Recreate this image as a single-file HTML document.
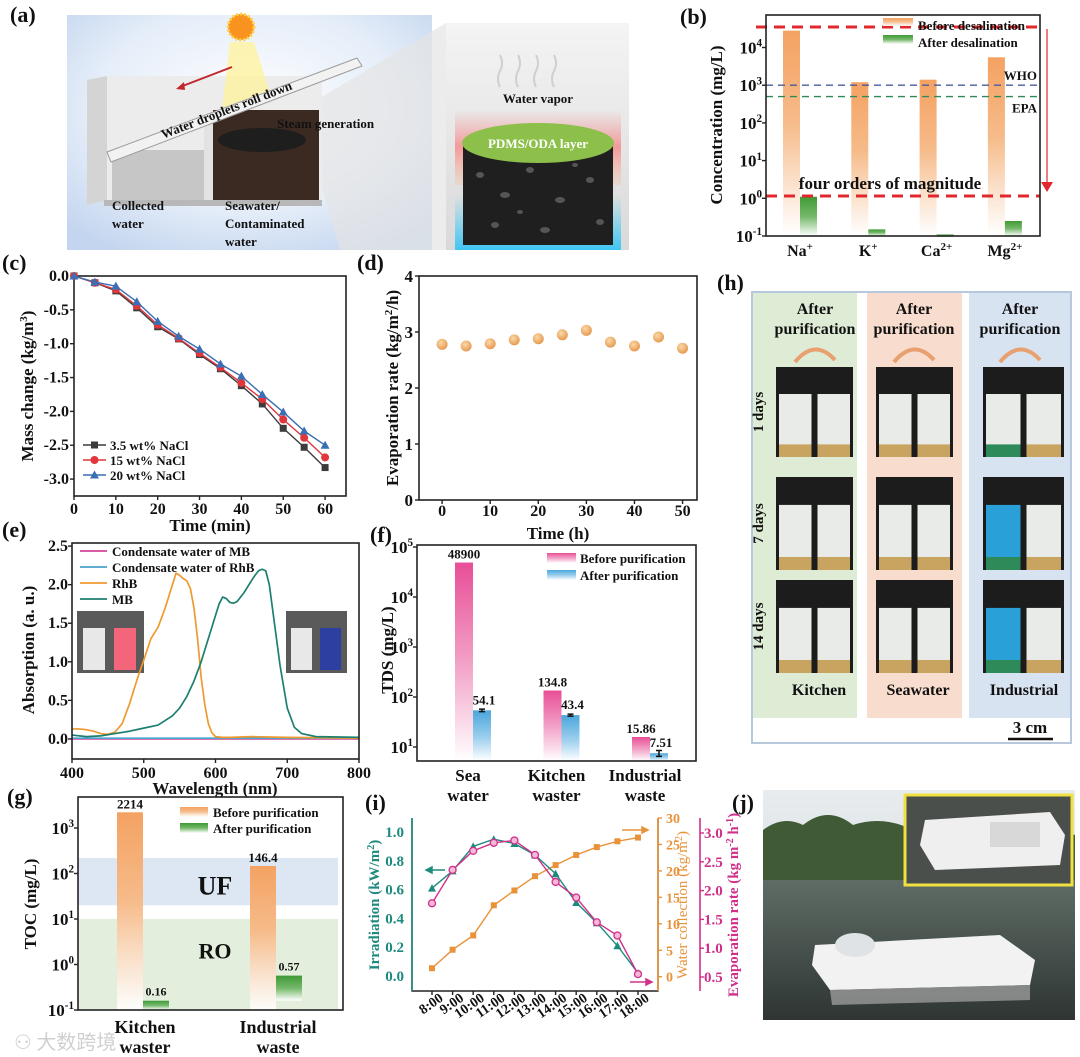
<!DOCTYPE html>
<html><head><meta charset="utf-8">
<style>
html,body{margin:0;padding:0;background:#fff}
svg{display:block;font-family:"Liberation Serif","Noto Serif CJK SC",serif;font-weight:bold}
</style></head>
<body>
<svg id="fig" width="1080" height="1057" viewBox="0 0 1080 1057" xmlns="http://www.w3.org/2000/svg">
<defs>
<linearGradient id="gOrange" x1="0" y1="0" x2="0" y2="1"><stop offset="0" stop-color="#f4a262"/><stop offset="0.45" stop-color="#f6bb8a"/><stop offset="1" stop-color="#fff" stop-opacity="0.9"/></linearGradient>
<linearGradient id="gGreen" x1="0" y1="0" x2="0" y2="1"><stop offset="0" stop-color="#3f9a36"/><stop offset="0.5" stop-color="#74b86a"/><stop offset="1" stop-color="#fff"/></linearGradient>
<linearGradient id="gPink" x1="0" y1="0" x2="0" y2="1"><stop offset="0" stop-color="#e84e97"/><stop offset="0.5" stop-color="#f2a0c6"/><stop offset="1" stop-color="#fff"/></linearGradient>
<linearGradient id="gBlue" x1="0" y1="0" x2="0" y2="1"><stop offset="0" stop-color="#4aa6dc"/><stop offset="0.55" stop-color="#9fd0ee"/><stop offset="1" stop-color="#fff"/></linearGradient>
<radialGradient id="gDot" cx="0.4" cy="0.35" r="0.7"><stop offset="0" stop-color="#fbd9a8"/><stop offset="1" stop-color="#e4954c"/></radialGradient>
<radialGradient id="aBg" cx="0.5" cy="0.4" r="0.7"><stop offset="0" stop-color="#ffffff"/><stop offset="0.6" stop-color="#e6eef9"/><stop offset="1" stop-color="#c4d6ef"/></radialGradient>
<linearGradient id="grayBg" x1="0" y1="0" x2="0" y2="1"><stop offset="0" stop-color="#f4f4f4"/><stop offset="1" stop-color="#d9d9d9"/></linearGradient>
<linearGradient id="redGlow" x1="0" y1="0" x2="0" y2="1"><stop offset="0" stop-color="#f4a0a0" stop-opacity="0"/><stop offset="0.5" stop-color="#f29a9a"/><stop offset="1" stop-color="#f6c0a0" stop-opacity="0.3"/></linearGradient>
<linearGradient id="blueGlow" x1="0" y1="0" x2="0" y2="1"><stop offset="0" stop-color="#4fd0f5" stop-opacity="0"/><stop offset="1" stop-color="#3fc6f2"/></linearGradient>
<linearGradient id="sky" x1="0" y1="0" x2="0" y2="1"><stop offset="0" stop-color="#e8ecef"/><stop offset="1" stop-color="#c9d2d6"/></linearGradient>
<linearGradient id="water" x1="0" y1="0" x2="0" y2="1"><stop offset="0" stop-color="#5f6c66"/><stop offset="1" stop-color="#2e3532"/></linearGradient>
</defs>

<!-- Panel a illustration -->
<g>
  <rect x="67" y="15" width="365" height="235" fill="url(#aBg)"/>
  <polygon points="300,110 446,23 446,250 340,250" fill="#e4e4e4" opacity="0.7"/>
  <polygon points="87,80 107,76 107,200 87,205" fill="#d4d4d4"/>
  <rect x="107" y="76" width="215" height="124" fill="#ececec"/>
  <rect x="112" y="150" width="92" height="50" fill="#c6c6c6"/>
  <rect x="204" y="118" width="9" height="87" fill="#e2e2e2"/>
  <rect x="213" y="110" width="106" height="90" fill="#3a2a22"/>
  <ellipse cx="262" cy="140" rx="44" ry="12" fill="#1e1e1e"/>
  <rect x="104" y="200" width="218" height="6" fill="#b8b8b8"/>
  <polygon points="230,42 254,42 272,100 222,110" fill="#fff3a0" opacity="0.8"/>
  <circle cx="241" cy="27" r="13" fill="#f7931e" stroke="#ffd24a" stroke-width="3" stroke-dasharray="2 2"/>
  <polygon points="107,152 357,58 362,66 111,162" fill="#f2f2f2" stroke="#9a9a9a"/>
  <line x1="232" y1="67" x2="180" y2="87" stroke="#c0282d" stroke-width="2"/>
  <polygon points="176,89 184,82 185,90" fill="#c0282d"/>
  <text x="228" y="114" font-size="13" text-anchor="middle" transform="rotate(-21 228 114)" fill="#111">Water droplets roll down</text>
  <text x="277" y="128" font-size="13" fill="#111">Steam generation</text>
  <text x="112" y="210" font-size="13" fill="#111">Collected</text>
  <text x="112" y="228" font-size="13" fill="#111">water</text>
  <text x="225" y="210" font-size="13" fill="#111">Seawater/</text>
  <text x="225" y="228" font-size="13" fill="#111">Contaminated</text>
  <text x="225" y="246" font-size="13" fill="#111">water</text>
  <rect x="446" y="23" width="183" height="227" fill="url(#grayBg)"/>
  <rect x="455" y="110" width="166" height="75" fill="url(#redGlow)"/>
  <rect x="455" y="195" width="166" height="55" fill="url(#blueGlow)"/>
  <path d="M500 55 q4 8 0 16 q-4 8 0 16 M518 55 q4 8 0 16 q-4 8 0 16 M536 55 q4 8 0 16 q-4 8 0 16 M554 55 q4 8 0 16 q-4 8 0 16" stroke="#cfcfcf" stroke-width="2" fill="none"/>
  <text x="538" y="103" font-size="13" text-anchor="middle" fill="#111">Water vapor</text>
  <rect x="463" y="143" width="150" height="102" fill="#1f1f1f"/>
  <g fill="#555">
    <ellipse cx="480" cy="175" rx="4" ry="3"/><ellipse cx="505" cy="195" rx="5" ry="3"/><ellipse cx="530" cy="170" rx="4" ry="3"/><ellipse cx="560" cy="200" rx="5" ry="3"/><ellipse cx="590" cy="180" rx="4" ry="3"/><ellipse cx="495" cy="225" rx="4" ry="3"/><ellipse cx="545" cy="230" rx="5" ry="3"/><ellipse cx="600" cy="222" rx="4" ry="3"/><ellipse cx="575" cy="165" rx="3" ry="2"/><ellipse cx="520" cy="212" rx="3" ry="2"/>
  </g>
  <ellipse cx="538" cy="143" rx="76" ry="20" fill="#8cc04a"/>
  <text x="538" y="148" font-size="13" text-anchor="middle" fill="#fff">PDMS/ODA layer</text>
</g>

<!-- Panel j photo -->
<g>
  <rect x="763" y="790" width="312" height="230" fill="url(#sky)"/>
  <path d="M763 830 q20 -15 40 -5 q25 -20 50 0 q30 -10 60 5 q40 -15 80 0 q40 -10 82 5 L1075 890 L763 890 Z" fill="#3f5a35"/>
  <rect x="763" y="880" width="312" height="140" fill="url(#water)"/>
  <polygon points="815,945 1000,935 1035,960 1030,985 830,990 812,965" fill="#f2f2f2"/>
  <polygon points="830,990 1030,985 1030,1000 832,1005" fill="#9a9a9a" opacity="0.8"/>
  <ellipse cx="855" cy="945" rx="20" ry="12" fill="#dfe3e6"/>
  <rect x="905" y="795" width="167" height="90" fill="#4b4f4c" stroke="#f0e040" stroke-width="3"/>
  <polygon points="925,820 1050,812 1065,835 1060,865 935,870 920,845" fill="#efefef"/>
  <rect x="990" y="822" width="50" height="25" fill="#d8d8d8"/>
</g>

<!-- Panel h frame -->
<g>
  <rect x="752" y="292" width="319" height="451" fill="#fff" stroke="#b8c8dc" stroke-width="2"/>
  <rect x="753" y="293" width="104" height="425" fill="#deecd6"/>
  <rect x="867" y="293" width="95" height="425" fill="#f8dccd"/>
  <rect x="969" y="293" width="101" height="425" fill="#d8e3f1"/>
</g>
</svg>

<script>
const NS='http://www.w3.org/2000/svg';
const fig=document.getElementById('fig');
function el(tag,attrs,parent){const e=document.createElementNS(NS,tag);for(const k in attrs)e.setAttribute(k,attrs[k]);(parent||fig).appendChild(e);return e;}
function txt(x,y,s,size,anchor,fill,parent){const e=el('text',{x:x,y:y,'font-size':size,'text-anchor':anchor||'middle',fill:fill||'#111'},parent);e.textContent=s;return e;}
function lin(d0,d1,r0,r1){return v=>r0+(v-d0)/(d1-d0)*(r1-r0);}
function logs(e0,e1,r0,r1){return v=>r0+(Math.log10(v)-e0)/(e1-e0)*(r1-r0);}
function pow10(x,y,exp,size,anchor,fill){const e=el('text',{x:x,y:y,'font-size':size,'text-anchor':anchor||'end',fill:fill||'#111'});e.appendChild(document.createTextNode('10'));const s=el('tspan',{dy:-size*0.4,'font-size':size*0.65},e);s.textContent=exp;return e;}
function frame(x0,y0,x1,y1){return el('rect',{x:x0,y:y0,width:x1-x0,height:y1-y0,fill:'none',stroke:'#222','stroke-width':1.6});}
function panelLabel(x,y,s){const t=txt(x,y,s,22,'start');return t;}
function rotTitle(x,y,s,size,fill){const t=el('text',{x:x,y:y,'font-size':size,'text-anchor':'middle',fill:fill||'#111',transform:'rotate(-90 '+x+' '+y+')'});return t;}

/* ================= DATA ================= */
// (b)
const bCats=['Na','K','Ca','Mg'];
const bCharges=['+','+','2+','2+'];
const bBefore=[28000,1200,1400,5500];
const bAfter=[1.1,0.15,0.11,0.25];
const bWHO=1000, bEPA=500, bTop=35000, bBottom=1.15;
const bExps=['4','3','2','1','0','-1'];
// (c)
const cTimes=[0,5,10,15,20,25,30,35,40,45,50,55,60];
const cNaCl35=[0,-0.10,-0.22,-0.47,-0.75,-0.93,-1.16,-1.37,-1.62,-1.89,-2.25,-2.53,-2.83];
const cNaCl15=[0,-0.10,-0.20,-0.44,-0.72,-0.92,-1.14,-1.35,-1.58,-1.82,-2.12,-2.39,-2.68];
const cNaCl20=[0,-0.09,-0.15,-0.38,-0.67,-0.89,-1.08,-1.30,-1.48,-1.75,-2.01,-2.29,-2.50];
const cXTicks=[0,10,20,30,40,50,60];
const cYTicks=[0,-0.5,-1,-1.5,-2,-2.5,-3];
const cYLabels=['0.0','-0.5','-1.0','-1.5','-2.0','-2.5','-3.0'];
// (d)
const dTimes=[0,5,10,15,20,25,30,35,40,45,50];
const dRates=[2.78,2.75,2.79,2.86,2.88,2.95,3.03,2.82,2.75,2.91,2.71];
const dXTicks=[0,10,20,30,40,50];
const dYTicks=[0,1,2,3,4];
// (e)
const eRhBWave=[400,410,420,430,440,450,460,470,480,490,500,510,520,530,540,545,550,555,560,565,570,575,580,585,590,595,600,610,620,650,700,800];
const eRhBAbs=[0.13,0.13,0.12,0.10,0.07,0.06,0.09,0.20,0.45,0.75,1.02,1.30,1.45,1.70,2.00,2.15,2.12,2.08,2.05,1.95,1.70,1.30,0.80,0.45,0.20,0.08,0.03,0.02,0.02,0.03,0.02,0.01];
const eMBWave=[400,420,440,460,480,500,520,540,550,560,570,580,590,600,605,610,615,620,625,630,640,650,655,660,665,670,675,680,690,700,710,720,740,800];
const eMBAbs=[0.05,0.03,0.04,0.07,0.10,0.14,0.18,0.30,0.40,0.55,0.75,1.00,1.30,1.60,1.75,1.84,1.82,1.77,1.76,1.78,1.90,2.05,2.12,2.18,2.20,2.18,2.00,1.65,0.95,0.40,0.15,0.07,0.03,0.02];
const eCondWave=[400,800];
const eCondMB=[0.0,0.0];
const eCondRhB=[0.01,0.01];
const eXTicks=[400,500,600,700,800];
const eYTicks=[0,0.5,1,1.5,2,2.5];
const eYLabels=['0.0','0.5','1.0','1.5','2.0','2.5'];
// (f)
const fCats=['Sea','Kitchen','Industrial'];
const fCats2=['water','waster','waste'];
const fBefore=[48900,134.8,15.86];
const fAfter=[54.1,43.4,7.51];
const fBeforeLabels=['48900','134.8','15.86'];
const fAfterLabels=['54.1','43.4','7.51'];
const fErr=[3,2,1];
const fExps=['5','4','3','2','1'];
// (g)
const gCats=['Kitchen','Industrial'];
const gCats2=['waster','waste'];
const gBefore=[2214,146.4];
const gAfter=[0.16,0.57];
const gBeforeLabels=['2214','146.4'];
const gAfterLabels=['0.16','0.57'];
const gUF=[20,220], gRO=[0.1,10];
const gExps=['3','2','1','0','-1'];
// (i)
const iHours=[8,9,10,11,12,13,14,15,16,17,18];
const iHourLabels=['8:00','9:00','10:00','11:00','12:00','13:00','14:00','15:00','16:00','17:00','18:00'];
const iIrr=[0.61,0.73,0.90,0.95,0.92,0.84,0.71,0.51,0.37,0.21,0.02];
const iWater=[1.6,5.1,7.8,13.5,16.3,19.0,21.1,23.0,24.5,25.6,26.3];
const iEvap=[1.78,2.36,2.69,2.83,2.87,2.62,2.15,1.88,1.45,1.22,0.55];
const iLTicks=[0,0.2,0.4,0.6,0.8,1.0];
const iLLabels=['0.0','0.2','0.4','0.6','0.8','1.0'];
const iRTicks=[0,5,10,15,20,25,30];
const iPTicks=[0.5,1.0,1.5,2.0,2.5,3.0];
const iPLabels=['0.5','1.0','1.5','2.0','2.5','3.0'];

/* ================= PANEL LABELS ================= */
[['(a)',10,22],['(b)',680,24],['(c)',2,270],['(d)',357,270],['(e)',2,537],['(f)',370,542],['(g)',7,804],['(h)',717,290],['(i)',365,810],['(j)',732,810]].forEach(p=>{
  const t=panelLabel(p[1],p[2],p[0]);
  
  
});

/* ================= (b) ================= */
(function(){
  const X0=766,X1=1040,Y0=15,Y1=236;
  const y=logs(-1,0,236,198.3);
  const bx=i=>800+i*68.3;
  bCats.forEach((c,i)=>{
    const r=el('rect',{x:bx(i)-17,y:y(bBefore[i]),width:17,height:Y1-y(bBefore[i]),fill:'url(#gOrange)'});
    
    
    const a=el('rect',{x:bx(i),y:y(bAfter[i]),width:17,height:Math.max(3,Math.min(Y1,y(bAfter[i])+40)-y(bAfter[i])),fill:'url(#gGreen)'});
    
    
    const t=txt(bx(i),256,c,16,'middle');
    const s=el('tspan',{dy:-6,'font-size':11},t);s.textContent=bCharges[i];
    
    
  });
  const w=el('line',{x1:X0,x2:X1,y1:y(bWHO),y2:y(bWHO),stroke:'#4a5a9a','stroke-width':1.3,'stroke-dasharray':'7 5'});
  
  
  const e=el('line',{x1:X0,x2:X1,y1:y(bEPA),y2:y(bEPA),stroke:'#2f8a5a','stroke-width':1.3,'stroke-dasharray':'7 5'});
  
  
  const wt=txt(1037,y(bWHO)-5,'WHO',13,'end');
  
  
  const et=txt(1037,y(bEPA)+16,'EPA',13,'end');
  
  
  const r1=el('line',{x1:X0-10,x2:X1,y1:y(bTop),y2:y(bTop),stroke:'#e0282e','stroke-width':3,'stroke-dasharray':'11 7'});
  
  
  const r2=el('line',{x1:X0,x2:X1,y1:y(bBottom),y2:y(bBottom),stroke:'#e0282e','stroke-width':3,'stroke-dasharray':'11 7'});
  
  
  const ar=el('line',{x1:1047,x2:1047,y1:y(bTop)+2,y2:y(bBottom)-12,stroke:'#e0282e','stroke-width':1.2});
  
  
  const ah=el('polygon',{points:'1041,'+(y(bBottom)-14)+' 1053,'+(y(bBottom)-14)+' 1047,'+(y(bBottom)-4),fill:'#e0282e'});
  
  
  const ft=txt(890,189,'four orders of magnitude',17,'middle');
  
  
  const f=frame(X0,Y0,X1,Y1);
  
  
  bExps.forEach(ex=>{
    const v=Math.pow(10,+ex);
    const tk=el('line',{x1:X0-4,x2:X0,y1:y(v),y2:y(v),stroke:'#222','stroke-width':1.4});
    
    
    const l=pow10(762,y(v)+6,ex,17);
    
    
  });
  const sw1=el('rect',{x:883,y:18,width:30,height:8,fill:'url(#gOrange)'});
  
  
  const lt1=txt(918,30,'Before desalination',13,'start');
  
  
  const sw2=el('rect',{x:883,y:35,width:30,height:9,fill:'url(#gGreen)'});
  
  
  const lt2=txt(918,47,'After desalination',13,'start');
  
  
  const yt=rotTitle(722,125,'',17);
  yt.textContent='Concentration (mg/L)';
  
  
})();

/* ================= (c) ================= */
(function(){
  const X0=74,X1=346,Y0=276,Y1=496;
  const x=lin(0,65,74,346), y=lin(0,-3.25,276,496);
  const f=frame(X0,Y0,X1,Y1);
  
  
  cXTicks.forEach(v=>{
    const tk=el('line',{x1:x(v),x2:x(v),y1:Y1,y2:Y1+4,stroke:'#222','stroke-width':1.4});
    
    
    const l=txt(x(v),514,String(v),16,'middle');
    
    
  });
  cYTicks.forEach((v,i)=>{
    const tk=el('line',{x1:X0-4,x2:X0,y1:y(v),y2:y(v),stroke:'#222','stroke-width':1.4});
    
    
    const l=txt(69,y(v)+5,cYLabels[i],16,'end');
    
    
  });
  const series=[[cNaCl35,'#3c3c3c','sq','3.5 wt% NaCl'],[cNaCl15,'#e0363c','ci','15 wt% NaCl'],[cNaCl20,'#3a6fb5','tr','20 wt% NaCl']];
  function marker(px,py,kind,col,name){
    let m;
    if(kind==='sq') m=el('rect',{x:px-3.5,y:py-3.5,width:7,height:7,fill:col});
    else if(kind==='ci') m=el('circle',{cx:px,cy:py,r:4,fill:col});
    else m=el('polygon',{points:(px-4.5)+','+(py+3.5)+' '+(px+4.5)+','+(py+3.5)+' '+px+','+(py-4.5),fill:col});
    
    
  }
  series.forEach((s,si)=>{
    const pl=el('polyline',{points:cTimes.map((t,i)=>x(t)+','+y(s[0][i])).join(' '),fill:'none',stroke:s[1],'stroke-width':1.4});
    
    
    cTimes.forEach((t,i)=>marker(x(t),y(s[0][i]),s[2],s[1],'point'));
    const ly=445+si*15;
    const ll=el('line',{x1:83,x2:106,y1:ly,y2:ly,stroke:s[1],'stroke-width':1.4});
    
    
    marker(94.5,ly,s[2],s[1],'legend-marker');
    const lt=txt(110,ly+5,s[3],13,'start');
    
    
  });
  const yt=rotTitle(33,386,'',17);
  yt.appendChild(document.createTextNode('Mass change (kg/m'));
  const sup=el('tspan',{dy:-6,'font-size':11},yt);sup.textContent='3';
  const cl=el('tspan',{dy:6},yt);cl.textContent=')';
  
  
  const xt=txt(210,531,'Time (min)',17,'middle');
  
  
})();

/* ================= (d) ================= */
(function(){
  const X0=419,X1=697,Y0=276,Y1=500;
  const x=lin(-4.8,53,419,697), y=lin(0,4,500,276);
  const f=frame(X0,Y0,X1,Y1);
  
  
  dXTicks.forEach(v=>{
    const tk=el('line',{x1:x(v),x2:x(v),y1:Y1,y2:Y1+4,stroke:'#222','stroke-width':1.4});
    
    
    const l=txt(x(v),516,String(v),16,'middle');
    
    
  });
  dYTicks.forEach(v=>{
    const tk=el('line',{x1:X0-4,x2:X0,y1:y(v),y2:y(v),stroke:'#222','stroke-width':1.4});
    
    
    const l=txt(413,y(v)+6,String(v),17,'end');
    
    
  });
  dTimes.forEach((t,i)=>{
    const c=el('circle',{cx:x(t),cy:y(dRates[i]),r:5.5,fill:'url(#gDot)'});
    
    
  });
  const yt=rotTitle(398,388,'',17);
  yt.appendChild(document.createTextNode('Evaporation rate (kg/m'));
  const sup=el('tspan',{dy:-6,'font-size':11},yt);sup.textContent='2';
  const cl=el('tspan',{dy:6},yt);cl.textContent='/h)';
  
  
  const xt=txt(558,539,'Time (h)',17,'middle');
  
  
})();

/* ================= (e) ================= */
(function(){
  const X0=72,X1=359,Y0=543,Y1=759;
  const x=lin(400,800,72,359), y=lin(-0.26,2.54,759,543);
  // insets
  const in1=el('rect',{x:77,y:611,width:67,height:62,fill:'#5a5a5a'});
  
  
  const v1=el('rect',{x:83,y:628,width:22,height:42,fill:'#e8e8e8'});
  
  
  const v2=el('rect',{x:114,y:628,width:22,height:42,fill:'#f2657a'});
  
  
  const in2=el('rect',{x:286,y:611,width:61,height:62,fill:'#5a5a5a'});
  
  
  const v3=el('rect',{x:291,y:628,width:21,height:42,fill:'#e8e8e8'});
  
  
  const v4=el('rect',{x:320,y:628,width:21,height:42,fill:'#2d3fa0'});
  
  
  const curves=[[eCondWave,eCondMB,'#d4469c','Condensate water of MB'],[eCondWave,eCondRhB,'#4aa3c8','Condensate water of RhB'],[eRhBWave,eRhBAbs,'#ee9a30','RhB'],[eMBWave,eMBAbs,'#1d7f70','MB']];
  curves.forEach((c,ci)=>{
    const pl=el('polyline',{points:c[0].map((w,i)=>x(w)+','+y(c[1][i])).join(' '),fill:'none',stroke:c[2],'stroke-width':1.7,'stroke-linejoin':'round'});
    
    
    const ly=551+ci*16;
    const ll=el('line',{x1:80,x2:107,y1:ly,y2:ly,stroke:c[2],'stroke-width':1.7});
    
    
    const lt=txt(112,ly+5,c[3],13,'start');
    
    
  });
  const f=frame(X0,Y0,X1,Y1);
  
  
  eXTicks.forEach(v=>{
    const tk=el('line',{x1:x(v),x2:x(v),y1:Y1,y2:Y1+4,stroke:'#222','stroke-width':1.4});
    
    
    const l=txt(x(v),778,String(v),16,'middle');
    
    
  });
  eYTicks.forEach((v,i)=>{
    const tk=el('line',{x1:X0-4,x2:X0,y1:y(v),y2:y(v),stroke:'#222','stroke-width':1.4});
    
    
    const l=txt(68,y(v)+5,eYLabels[i],16,'end');
    
    
  });
  const yt=rotTitle(34,650,'Absorption (a. u.)',17);
  yt.textContent='Absorption (a. u.)';
  
  
  const xt=txt(215,794,'Wavelength (nm)',17,'middle');
  
  
})();

/* ================= (f) ================= */
(function(){
  const X0=417,X1=696,Y0=545,Y1=761;
  const y=logs(1,5,747,547);
  const cx=i=>473+i*88.5;
  fCats.forEach((c,i)=>{
    const b=el('rect',{x:cx(i)-18,y:y(fBefore[i]),width:18,height:Y1-y(fBefore[i]),fill:'url(#gPink)'});
    
    
    const a=el('rect',{x:cx(i),y:y(fAfter[i]),width:18,height:Y1-y(fAfter[i]),fill:'url(#gBlue)'});
    
    
    const eb=el('path',{d:'M'+(cx(i)+9)+' '+y(fAfter[i]+fErr[i])+' V'+y(fAfter[i]-fErr[i])+' M'+(cx(i)+6)+' '+y(fAfter[i]+fErr[i])+' h6 M'+(cx(i)+6)+' '+y(fAfter[i]-fErr[i])+' h6',stroke:'#111','stroke-width':1.5,fill:'none'});
    
    
    const bl=txt(cx(i)-9,y(fBefore[i])-4,fBeforeLabels[i],13,'middle');
    
    
    const al=txt(cx(i)+11,y(fAfter[i])-6,fAfterLabels[i],13,'middle');
    
    
    const c1=txt(cx(i)-5,781,c,17,'middle');
    
    
    const c2=txt(cx(i)-5,801,fCats2[i],17,'middle');
    
    
  });
  const f=frame(X0,Y0,X1,Y1);
  
  
  fExps.forEach(ex=>{
    const v=Math.pow(10,+ex);
    const tk=el('line',{x1:X0-4,x2:X0,y1:y(v),y2:y(v),stroke:'#222','stroke-width':1.4});
    
    
    const l=pow10(413,y(v)+6,ex,17);
    
    
  });
  const sw1=el('rect',{x:547,y:553,width:29,height:10,fill:'url(#gPink)'});
  
  
  const lt1=txt(580,563,'Before purification',13,'start');
  
  
  const sw2=el('rect',{x:547,y:570,width:29,height:10,fill:'url(#gBlue)'});
  
  
  const lt2=txt(580,580,'After purification',13,'start');
  
  
  const yt=rotTitle(393,650,'',17);
  yt.textContent='TDS (mg/L)';
  
  
})();

/* ================= (g) ================= */
(function(){
  const X0=78,X1=343,Y0=797,Y1=1010;
  const y=logs(-1,0,1010,964.5);
  const cx=i=>143+i*133;
  const uf=el('rect',{x:X0,y:y(gUF[1]),width:260,height:y(gUF[0])-y(gUF[1]),fill:'#dce7f3'});
  
  
  const ro=el('rect',{x:X0,y:y(gRO[1]),width:260,height:y(gRO[0])-y(gRO[1]),fill:'#e3efdc'});
  
  
  const ut=txt(215,y(55)+9,'UF',26,'middle');
  
  
  const rt=txt(215,y(1)-6,'RO',22,'middle');
  
  
  gCats.forEach((c,i)=>{
    const b=el('rect',{x:cx(i)-26,y:y(gBefore[i]),width:26,height:Y1-y(gBefore[i]),fill:'url(#gOrange)'});
    
    
    const a=el('rect',{x:cx(i),y:y(gAfter[i]),width:26,height:Math.max(4,Math.min(Y1,y(gAfter[i])+25)-y(gAfter[i])),fill:'url(#gGreen)'});
    
    
    const bl=txt(cx(i)-13,y(gBefore[i])-4,gBeforeLabels[i],13,'middle');
    
    
    const al=txt(cx(i)+13,y(gAfter[i])-5,gAfterLabels[i],12,'middle');
    
    
    const c1=txt(cx(i)+2,1033,c,18,'middle');
    
    
    const c2=txt(cx(i)+2,1053,gCats2[i],18,'middle');
    
    
  });
  const f=frame(X0,Y0,X1,Y1);
  
  
  gExps.forEach(ex=>{
    const v=Math.pow(10,+ex);
    const tk=el('line',{x1:X0-4,x2:X0,y1:y(v),y2:y(v),stroke:'#222','stroke-width':1.4});
    
    
    const l=pow10(74,y(v)+6,ex,17);
    
    
  });
  const sw1=el('rect',{x:180,y:807,width:28,height:10,fill:'url(#gOrange)'});
  
  
  const lt1=txt(213,817,'Before purification',13,'start');
  
  
  const sw2=el('rect',{x:180,y:823,width:28,height:10,fill:'url(#gGreen)'});
  
  
  const lt2=txt(213,833,'After purification',13,'start');
  
  
  const yt=rotTitle(36,904,'',17);
  yt.textContent='TOC (mg/L)';
  
  
  const wm=el('text',{x:14,y:1049,'font-size':20,fill:'#d0d0d0','font-family':'"Noto Sans CJK SC",sans-serif','font-weight':'normal'});
  wm.textContent='⚇ 大数跨境';
  
  
})();

/* ================= (i) ================= */
(function(){
  const X0=412,X1=658,Y0=818,Y1=991;
  const x=lin(8,18,432,638), yL=lin(0,1,976,832), yR=lin(0,30,976.7,818), yP=lin(0.5,3,977,833);
  const teal='#1e8a7e', orange='#e8923a', pink='#d0308a';
  const frm=el('path',{d:'M'+X0+' '+Y0+' V'+Y1+' H'+X1+' V'+Y0,fill:'none',stroke:'#222','stroke-width':1.4});
  
  
  const la=el('line',{x1:X0,x2:X0,y1:Y0,y2:Y1,stroke:teal,'stroke-width':1.6});
  
  
  const ra=el('line',{x1:X1,x2:X1,y1:Y0,y2:Y1,stroke:orange,'stroke-width':1.6});
  
  
  const pa=el('line',{x1:700,x2:700,y1:Y0,y2:Y1,stroke:pink,'stroke-width':1.6});
  
  
  iHours.forEach((h,i)=>{
    const tk=el('line',{x1:x(h),x2:x(h),y1:Y1,y2:Y1+4,stroke:'#222','stroke-width':1.4});
    
    
    const l=el('text',{x:x(h)+12,y:1000,'font-size':14,'text-anchor':'end',fill:'#111',transform:'rotate(-35 '+(x(h)+12)+' 1000)'});
    l.textContent=iHourLabels[i];
    
    
  });
  iLTicks.forEach((v,i)=>{
    const l=txt(404,yL(v)+5,iLLabels[i],15,'end',teal);
    
    
  });
  iRTicks.forEach(v=>{
    const tk=el('line',{x1:X1,x2:X1+4,y1:yR(v),y2:yR(v),stroke:orange,'stroke-width':1.4});
    
    
    const l=txt(666,yR(v)+5,String(v),14,'start',orange);
    
    
  });
  iPTicks.forEach((v,i)=>{
    const tk=el('line',{x1:700,x2:704,y1:yP(v),y2:yP(v),stroke:pink,'stroke-width':1.4});
    
    
    const l=txt(704,yP(v)+5,iPLabels[i],15,'start',pink);
    
    
  });
  const wl=el('polyline',{points:iHours.map((h,i)=>x(h)+','+yR(iWater[i])).join(' '),fill:'none',stroke:orange,'stroke-width':1.4});
  
  
  iHours.forEach((h,i)=>{
    const m=el('rect',{x:x(h)-3,y:yR(iWater[i])-3,width:6,height:6,fill:orange});
    
    
  });
  const il=el('polyline',{points:iHours.map((h,i)=>x(h)+','+yL(iIrr[i])).join(' '),fill:'none',stroke:teal,'stroke-width':1.4});
  
  
  iHours.forEach((h,i)=>{
    const px=x(h),py=yL(iIrr[i]);
    const m=el('polygon',{points:(px-4)+','+(py+3.5)+' '+(px+4)+','+(py+3.5)+' '+px+','+(py-4),fill:teal});
    
    
  });
  const el2=el('polyline',{points:iHours.map((h,i)=>x(h)+','+yP(iEvap[i])).join(' '),fill:'none',stroke:pink,'stroke-width':1.4});
  
  
  iHours.forEach((h,i)=>{
    const m=el('circle',{cx:x(h),cy:yP(iEvap[i]),r:3.5,fill:'#f4b8d8',stroke:pink,'stroke-width':1.3});
    
    
  });
  const a1=el('path',{d:'M445 870 H426 M426 870 l6 -3 v6 z',stroke:teal,fill:teal,'stroke-width':1.5});
  
  
  const a2=el('path',{d:'M622 830 H648 M648 830 l-6 -3 v6 z',stroke:orange,fill:orange,'stroke-width':1.5});
  
  
  const a3=el('path',{d:'M630 982 H652 M652 982 l-6 -3 v6 z',stroke:pink,fill:pink,'stroke-width':1.5});
  
  
  const t1=rotTitle(379,905,'',15,teal);
  t1.appendChild(document.createTextNode('Irradiation (kW/m'));
  const s1=el('tspan',{dy:-5,'font-size':10},t1);s1.textContent='2';
  const c1=el('tspan',{dy:5},t1);c1.textContent=')';
  
  
  const t2=rotTitle(687,905,'',15,orange);
  t2.setAttribute('font-weight','normal');
  t2.appendChild(document.createTextNode('Water collection (kg/m'));
  const s2=el('tspan',{dy:-5,'font-size':10},t2);s2.textContent='2';
  const c2=el('tspan',{dy:5},t2);c2.textContent=')';
  
  
  const t3=rotTitle(738,905,'',15,pink);
  t3.appendChild(document.createTextNode('Evaporation rate (kg m'));
  const s3=el('tspan',{dy:-5,'font-size':10},t3);s3.textContent='-2';
  const m3=el('tspan',{dy:5},t3);m3.textContent=' h';
  const s4=el('tspan',{dy:-5,'font-size':10},t3);s4.textContent='-1';
  const c3=el('tspan',{dy:5},t3);c3.textContent=')';
  
  
})();

/* ================= (h) photos ================= */
(function(){
  const cols=[[776,853,'Kitchen',815],[876,953,'Seawater',914],[983,1064,'Industrial',1020]];
  const rows=[[367,457,'1 days'],[477,570,'7 days'],[580,673,'14 days']];
  cols.forEach((c,ci)=>{
    const h1=txt(c[3],314,'After',16,'middle');
    
    
    const h2=txt(c[3],334,'purification',16,'middle');
    
    
    const ar=el('path',{d:'M'+(c[3]-20)+' 362 Q'+c[3]+' 338 '+(c[3]+20)+' 360',stroke:'#e8a070','stroke-width':4,fill:'none'});
    
    
    const bl=txt(c[3]+4,695,c[2],16,'middle');
    
    
    rows.forEach((r,ri)=>{
      const w=c[1]-c[0], h=r[1]-r[0];
      const bg=el('rect',{x:c[0],y:r[0],width:w,height:h,fill:'#1c1c1c'});
      
      
      for(let k=0;k<2;k++){
        const vx=c[0]+3+k*(w/2), vw=w/2-6;
        const blue=(ci===2&&k===0&&ri>0);
        const vb=el('rect',{x:vx,y:r[0]+h*0.3,width:vw,height:h*0.7,fill:blue?'#2aa0d8':'#e9ebe9'});
        
        
        const sd=el('rect',{x:vx,y:r[0]+h*0.86,width:vw,height:h*0.14,fill:(ci===2&&k===0)?'#2f8a5a':'#c9a460'});
        
        
      }
    });
  });
  rows.forEach(r=>{
    const cy=(r[0]+r[1])/2;
    const t=el('text',{x:763,y:cy,'font-size':15,'text-anchor':'middle',fill:'#111',transform:'rotate(-90 763 '+cy+')'});
    t.textContent=r[2];
    
    
  });
  const sc=txt(1030,733,'3 cm',17,'middle');
  
  
  const sb=el('line',{x1:1008,x2:1053,y1:739,y2:739,stroke:'#111','stroke-width':2.5});
  
  
})();
</script>
</body></html>
